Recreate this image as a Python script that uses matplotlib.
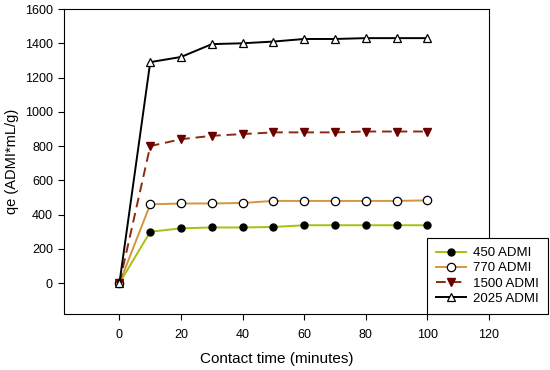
import matplotlib
matplotlib.use("Agg")
import matplotlib.pyplot as plt

plt.rcParams['font.family'] = ['Liberation Sans', 'DejaVu Sans']

time_min = [0, 10, 20, 30, 40, 50, 60, 70, 80, 90, 100]
qe_450 = [0, 300, 320, 325, 325, 328, 338, 338, 338, 338, 338]
qe_770 = [0, 460, 465, 465, 468, 480, 480, 480, 480, 480, 483]
qe_1500 = [0, 800, 840, 860, 870, 880, 880, 880, 885, 885, 885]
qe_2025 = [0, 1290, 1320, 1395, 1400, 1410, 1425, 1425, 1430, 1430, 1430]

fig = plt.figure(figsize=(5.5, 3.7), dpi=100)
# axes box: left spine ~64px, right ~489px, top ~9px, bottom ~314px
ax = fig.add_axes([64 / 550, 1 - 314 / 370, 425 / 550, 305 / 370])

ax.plot(time_min, qe_450, color='#a8c010', lw=1.4, marker='o', ms=5,
        mfc='black', mec='black', label='450 ADMI')
ax.plot(time_min, qe_770, color='#d4963c', lw=1.4, marker='o', ms=6,
        mfc='white', mec='black', mew=0.9, label='770 ADMI')
ax.plot(time_min, qe_1500, color='#8b2a10', lw=1.4, ls=(0, (5, 3)), marker='v', ms=6,
        mfc='#6a0000', mec='#6a0000', label='1500 ADMI')
ax.plot(time_min, qe_2025, color='black', lw=1.4, marker='^', ms=6,
        mfc='white', mec='black', mew=0.9, label='2025 ADMI')

ax.set_xlim(-18, 120)
ax.set_ylim(-180, 1600)
ax.set_xticks(range(0, 121, 20))
ax.set_yticks(range(0, 1601, 200))
ax.tick_params(direction='out', length=4, labelsize=9)
ax.tick_params(axis='x', pad=7)
ax.tick_params(axis='y', pad=4)
ax.set_xlabel('Contact time (minutes)', fontsize=11, labelpad=8)
ax.set_ylabel('qe (ADMI*mL/g)', fontsize=10.5, labelpad=4)

# legend sits on the lower right corner and sticks out past the right spine
leg = ax.legend(loc='lower right', bbox_to_anchor=(1.139, 0), fontsize=9.5,
                frameon=True, fancybox=False, framealpha=1,
                edgecolor='black', borderaxespad=0, handlelength=2.3,
                labelspacing=0.22, borderpad=0.7, handletextpad=0.5)
leg.get_frame().set_linewidth(0.8)
leg.set_clip_on(False)

fig.savefig('out.png', dpi=100)
